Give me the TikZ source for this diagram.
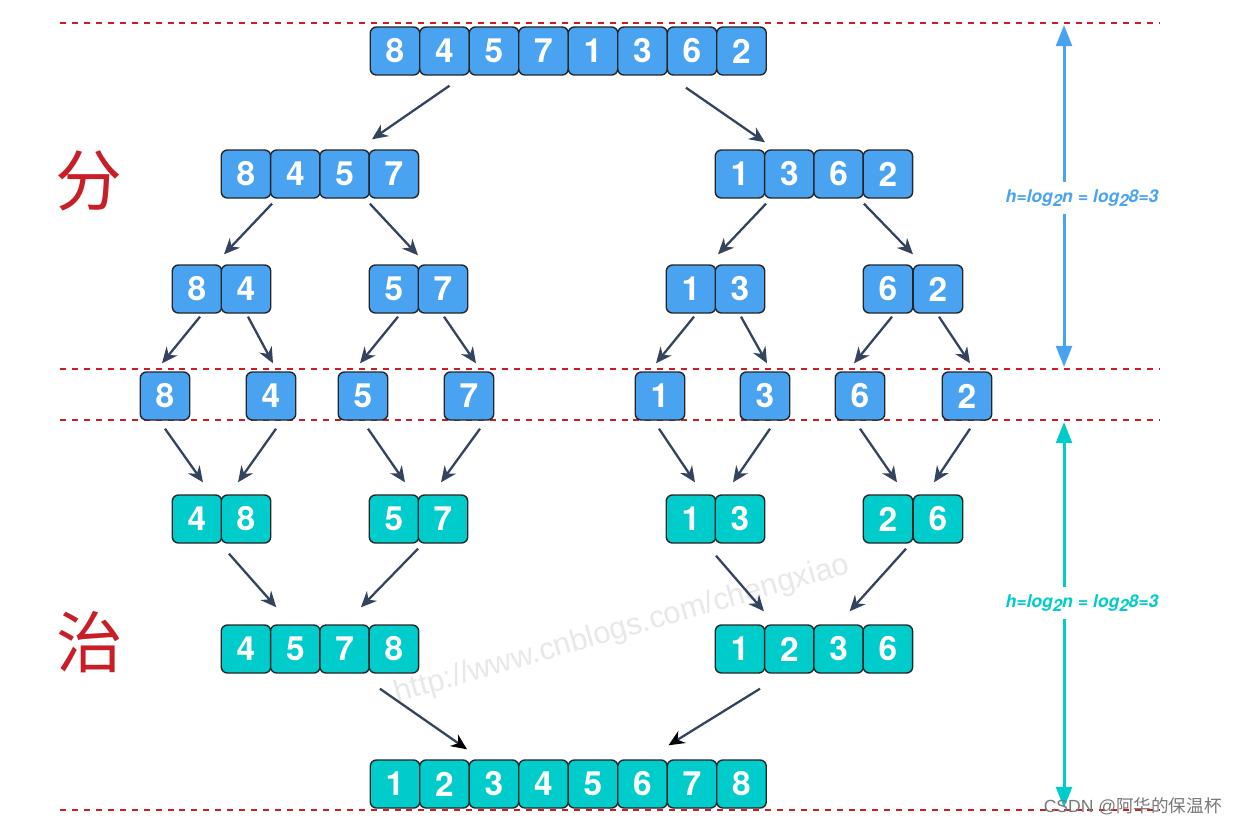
\documentclass[tikz,border=0pt]{standalone}
\usepackage{fontspec}
\setmainfont{Liberation Sans}
\newfontfamily\cjk{Noto Sans CJK SC}
\newfontfamily\heros{TeX Gyre Heros}
\usetikzlibrary{arrows.meta,calc}
\definecolor{cblue}{RGB}{74,163,240}
\definecolor{cteal}{RGB}{0,204,204}
\definecolor{carrow}{RGB}{52,67,94}
\definecolor{cred}{RGB}{200,30,40}
\definecolor{cwater}{RGB}{232,232,232}
\definecolor{cmark}{RGB}{120,120,120}
\begin{document}
\begin{tikzpicture}[x=0.02cm,y=-0.02cm,
  cell/.style={draw=black!85, line width=0.8pt, rounded corners=3.5pt, minimum width=0.99cm, minimum height=0.96cm, inner sep=0pt, text=white, font=\heros\bfseries\fontsize{19}{19}\selectfont},
  bcell/.style={cell, fill=cblue},
  tcell/.style={cell, fill=cteal},
  conn/.style={draw=carrow, line width=1.3pt, -{Stealth[length=9pt,width=8pt]}},
  connk/.style={draw=carrow, line width=1.3pt, -{Stealth[length=9pt,width=8pt,color=black]}},
  sep/.style={draw=cred, line width=1.2pt, dash pattern=on 3.4pt off 3.4pt},
  side/.style={line width=1.7pt, -{Triangle[length=12pt,width=9pt]}},
  hlabel/.style={font=\heros\bfseries\itshape\fontsize{10}{11}\selectfont, inner sep=4pt},
  bigchar/.style={text=cred, font=\cjk\fontsize{38}{38}\selectfont}
]
\path[use as bounding box, fill=white] (0,0) rectangle (1236,826);

% watermark
\node[text=cwater, rotate=16, font=\fontsize{17.5}{17.5}\selectfont] (wm) at (622,630) {http://www.cnblogs.com/chengxiao};

% separators
\coordinate (s1a) at (60,23);  \coordinate (s1b) at (1160,23);
\coordinate (s2a) at (60,369); \coordinate (s2b) at (1160,369);
\coordinate (s3a) at (60,420); \coordinate (s3b) at (1160,420);
\coordinate (s4a) at (60,810); \coordinate (s4b) at (1160,810);
\draw[sep] (s1a) -- (s1b);
\draw[sep] (s2a) -- (s2b);
\draw[sep] (s3a) -- (s3b);
\draw[sep] (s4a) -- (s4b);

% row 1
\foreach \v [count=\i] in {8,4,5,7,1,3,6,2}
  \node[bcell] (a\i) at ({395+(\i-1)*49.5},51) {\v};
% row 2
\foreach \v [count=\i] in {8,4,5,7}
  \node[bcell] (bL\i) at ({246+(\i-1)*49.3},174) {\v};
\foreach \v [count=\i] in {1,3,6,2}
  \node[bcell] (bR\i) at ({740+(\i-1)*49.3},174) {\v};
% row 3
\node[bcell] (cA1) at (197,289) {8}; \node[bcell] (cA2) at (246,289) {4};
\node[bcell] (cB1) at (394,289) {5}; \node[bcell] (cB2) at (443,289) {7};
\node[bcell] (cC1) at (691,289) {1}; \node[bcell] (cC2) at (740,289) {3};
\node[bcell] (cD1) at (888,289) {6}; \node[bcell] (cD2) at (938,289) {2};
% row 4
\node[bcell] (d1) at (165,396) {8};
\node[bcell] (d2) at (271,396) {4};
\node[bcell] (d3) at (363,396) {5};
\node[bcell] (d4) at (469,396) {7};
\node[bcell] (d5) at (660,396) {1};
\node[bcell] (d6) at (765,396) {3};
\node[bcell] (d7) at (860,396) {6};
\node[bcell] (d8) at (967,396) {2};
% row 5
\node[tcell] (eA1) at (197,519) {4}; \node[tcell] (eA2) at (246,519) {8};
\node[tcell] (eB1) at (394,519) {5}; \node[tcell] (eB2) at (443,519) {7};
\node[tcell] (eC1) at (691,519) {1}; \node[tcell] (eC2) at (740,519) {3};
\node[tcell] (eD1) at (888,519) {2}; \node[tcell] (eD2) at (938,519) {6};
% row 6
\foreach \v [count=\i] in {4,5,7,8}
  \node[tcell] (fL\i) at ({246+(\i-1)*49.3},649) {\v};
\foreach \v [count=\i] in {1,2,3,6}
  \node[tcell] (fR\i) at ({740+(\i-1)*49.3},649) {\v};
% row 7
\foreach \v [count=\i] in {1,2,3,4,5,6,7,8}
  \node[tcell] (g\i) at ({395+(\i-1)*49.5},784) {\v};

% arrows: row 1 -> 2
\draw[conn] ([shift={(5,10)}]a2.south) -- ([shift={(-22,-10)}]bL4.north);
\draw[conn] ([shift={(-6,12)}]a7.south) -- ([shift={(25,-7)}]bR1.north);
% row 2 -> 3
\draw[conn] ([shift={(26,5)}]bL1.south) -- ([shift={(27,-10)}]cA1.north);
\draw[conn] ([shift={(-24,5)}]bL4.south) -- ([shift={(-25,-9)}]cB2.north);
\draw[conn] ([shift={(26,5)}]bR1.south) -- ([shift={(27,-10)}]cC1.north);
\draw[conn] ([shift={(-24,5)}]bR4.south) -- ([shift={(-25,-10)}]cD2.north);
% row 3 -> 4
\draw[conn] ([shift={(3,3)}]cA1.south) -- ([shift={(-3,-8)}]d1.north);
\draw[conn] ([shift={(2,3)}]cA2.south) -- ([shift={(2,-8)}]d2.north);
\draw[conn] ([shift={(4,3)}]cB1.south) -- ([shift={(-3,-8)}]d3.north);
\draw[conn] ([shift={(1,3)}]cB2.south) -- ([shift={(7,-8)}]d4.north);
\draw[conn] ([shift={(3,3)}]cC1.south) -- ([shift={(-4,-8)}]d5.north);
\draw[conn] ([shift={(1,3)}]cC2.south) -- ([shift={(2,-8)}]d6.north);
\draw[conn] ([shift={(4,3)}]cD1.south) -- ([shift={(-6,-8)}]d7.north);
\draw[conn] ([shift={(1,3)}]cD2.south) -- ([shift={(3,-8)}]d8.north);
% row 4 -> 5
\draw[conn] ([shift={(0,8)}]d1.south) -- ([shift={(6,-12)}]eA1.north);
\draw[conn] ([shift={(5,8)}]d2.south) -- ([shift={(-8,-12)}]eA2.north);
\draw[conn] ([shift={(5,8)}]d3.south) -- ([shift={(11,-12)}]eB1.north);
\draw[conn] ([shift={(11,8)}]d4.south) -- ([shift={(-2,-12)}]eB2.north);
\draw[conn] ([shift={(-1,8)}]d5.south) -- ([shift={(4,-12)}]eC1.north);
\draw[conn] ([shift={(5,8)}]d6.south) -- ([shift={(-7,-12)}]eC2.north);
\draw[conn] ([shift={(0,8)}]d7.south) -- ([shift={(9,-12)}]eD1.north);
\draw[conn] ([shift={(3,8)}]d8.south) -- ([shift={(-4,-12)}]eD2.north);
% row 5 -> 6
\draw[conn] ([shift={(-17,10)}]eA2.south) -- ([shift={(-19,-17)}]fL2.north);
\draw[conn] ([shift={(-25,5)}]eB2.south) -- ([shift={(-33,-17)}]fL4.north);
\draw[conn] ([shift={(-24,12)}]eC2.south) -- ([shift={(24,-13)}]fR1.north);
\draw[conn] ([shift={(18,5)}]eD1.south) -- ([shift={(11,-13)}]fR3.north);
% row 6 -> 7
\draw[connk] ([shift={(-14,15)}]fL4.south) -- ([shift={(-27,-10)}]g3.north);
\draw[connk] ([shift={(20,15)}]fR1.south) -- ([shift={(26,-14)}]g6.north);

% side labels
\node[bigchar] (fen) at (89,181) {分};
\node[bigchar] (zhi) at (90,642) {治};

% height arrows
\coordinate (bt) at (1064,25);
\coordinate (bb) at (1064,367);
\node[hlabel, text=cblue] (hb) at (1082,198) {h=log\raisebox{-0.45ex}{\fontsize{9.5}{9.5}\selectfont 2}n = log\raisebox{-0.45ex}{\fontsize{9.5}{9.5}\selectfont 2}8=3};
\draw[side, cblue] (hb.north -| bt) -- (bt);
\draw[side, cblue] (hb.south -| bb) -- (bb);

\coordinate (tt) at (1064,422);
\coordinate (tb) at (1064,808);
\node[hlabel, text=cteal] (ht) at (1082,603) {h=log\raisebox{-0.45ex}{\fontsize{9.5}{9.5}\selectfont 2}n = log\raisebox{-0.45ex}{\fontsize{9.5}{9.5}\selectfont 2}8=3};
\draw[side, cteal] (ht.north -| tt) -- (tt);
\draw[side, cteal] (ht.south -| tb) -- (tb);

% credit
\node[anchor=east, text=cmark, font=\fontsize{10}{10}\selectfont, inner sep=0pt] (csdn) at (1222,806) {CSDN @{\cjk 阿华的保温杯}};
\end{tikzpicture}
\end{document}
